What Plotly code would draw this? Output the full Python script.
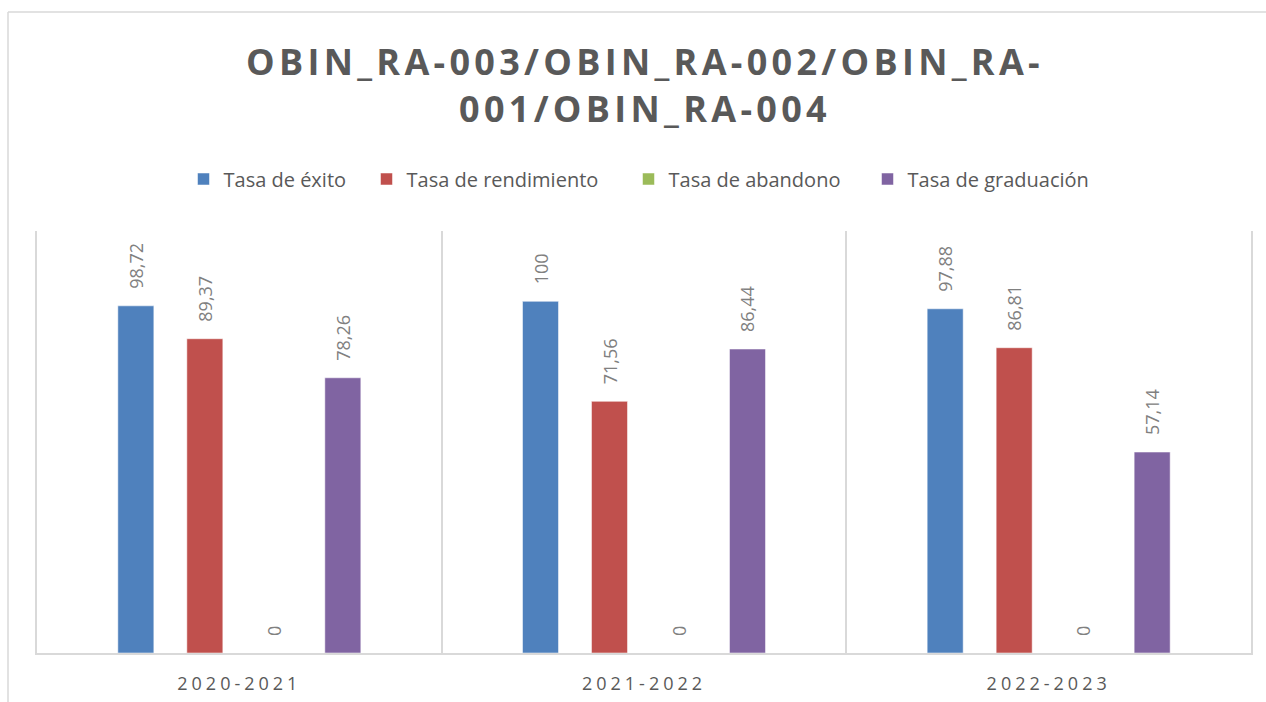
import plotly.graph_objects as go

categories = ["2020-2021", "2021-2022", "2022-2023"]
series_names = ["Tasa de éxito", "Tasa de rendimiento", "Tasa de abandono", "Tasa de graduación"]
tasa_exito = [98.72, 100, 97.88]
tasa_rendimiento = [89.37, 71.56, 86.81]
tasa_abandono = [0, 0, 0]
tasa_graduacion = [78.26, 86.44, 57.14]
colors = ["#4f81bd", "#c0504d", "#9bbb59", "#8064a2"]
title_text = "OBIN_RA-003/OBIN_RA-002/OBIN_RA-<br>001/OBIN_RA-004"
legend_widths = [138, 217, 194, 186]

W, H = 1266, 702
ML, MR, MT, MB = 37, 15, 231, 49
PW, PH = W - ML - MR, H - MT - MB


def fmt(v):
    s = f"{v:g}"
    return "\u00a0\u00a0\u00a0" + s.replace(".", ",")


fig = go.Figure()
for name, vals, col, lw in zip(series_names,
                               [tasa_exito, tasa_rendimiento, tasa_abandono, tasa_graduacion],
                               colors, legend_widths):
    fig.add_trace(go.Bar(
        x=categories, y=vals, name=name,
        marker=dict(color=col, line=dict(color="rgba(255,255,255,0.5)", width=1)),
        text=[fmt(v) for v in vals],
        textposition="outside", textangle=-90, constraintext="none",
        textfont=dict(family="Open Sans", size=18, color="#808080"),
        cliponaxis=False,
        legendwidth=lw,
    ))

px2x = lambda px: (px - ML) / PW
px2y = lambda py: (H - MB - py) / PH

fig.update_layout(
    width=W, height=H,
    margin=dict(l=ML, r=MR, t=MT, b=MB, autoexpand=False),
    paper_bgcolor="white", plot_bgcolor="white",
    barmode="group", bargap=0.318, bargroupgap=0.478,
    title=dict(text=title_text, x=645 / W, xanchor="center", xref="container",
               y=1 - 75 / H, yanchor="middle", yref="container",
               font=dict(family="Open Sans", size=36, color="#595959", weight="bold")),
    legend=dict(orientation="h", x=px2x(641), xanchor="center", y=px2y(179), yanchor="middle",
                font=dict(family="Open Sans", size=20, color="#595959"),
                bgcolor="rgba(0,0,0,0)"),
    xaxis=dict(showgrid=True, gridcolor="#d9d9d9", gridwidth=1.5, tickson="boundaries",
               showline=True, linecolor="#d9d9d9", linewidth=1.5, ticks="",
               ticklabelstandoff=14, automargin=False,
               tickfont=dict(family="Open Sans", size=18, color="#595959"),
               zeroline=False),
    yaxis=dict(range=[0, 120], showgrid=False, showticklabels=False, zeroline=False,
               automargin=False,
               showline=True, mirror=True, linecolor="#d9d9d9", linewidth=1.5, ticks=""),
    showlegend=True,
    shapes=[
        dict(type="line", xref="paper", yref="paper", x0=px2x(8), x1=px2x(W + 20),
             y0=px2y(12), y1=px2y(12), line=dict(color="#d9d9d9", width=1.5)),
        dict(type="line", xref="paper", yref="paper", x0=px2x(8), x1=px2x(8),
             y0=px2y(12), y1=px2y(H + 20), line=dict(color="#d9d9d9", width=1.5)),
    ],
)

post_js = (
    "document.body.style.margin='0';"
    "document.querySelectorAll('.xtick text').forEach(function(t){t.style.letterSpacing='4px';});"
    "document.querySelectorAll('.gtitle').forEach(function(t){t.style.letterSpacing='4.3px';});"
)
fig.write_html("out.html", post_script=post_js, config={"displayModeBar": False})
